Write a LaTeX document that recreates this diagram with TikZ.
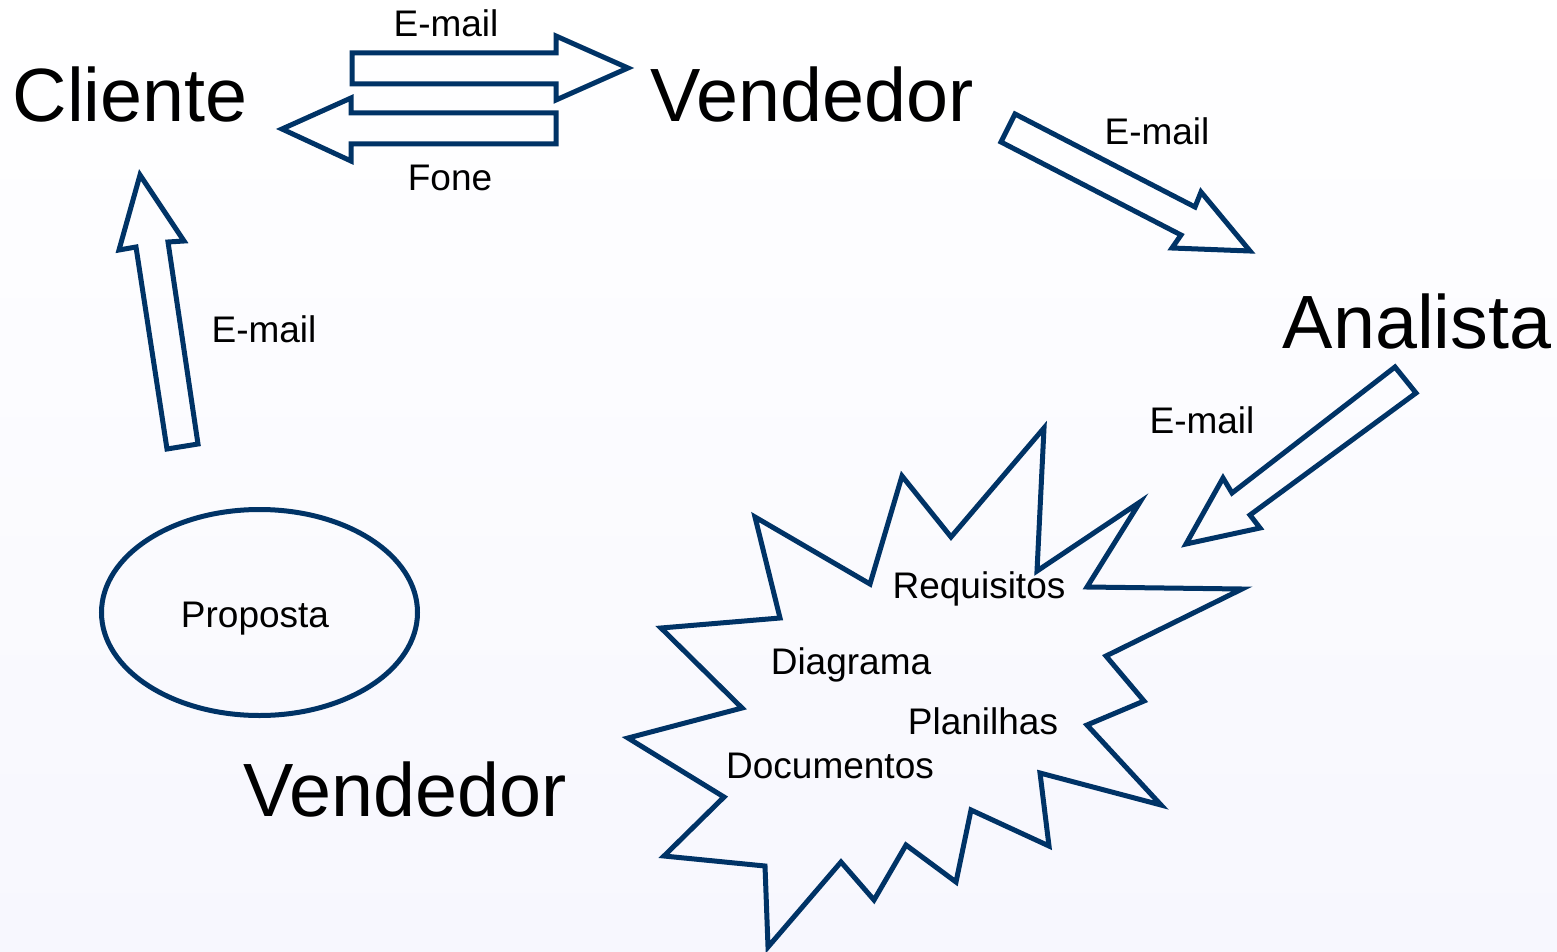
\documentclass[tikz,border=0pt]{standalone}
\usepackage{fontspec}
\setmainfont{Liberation Sans}
\definecolor{navy}{RGB}{0,51,102}
\definecolor{bgtop}{RGB}{255,255,255}
\definecolor{bgbot}{RGB}{247,247,254}
\tikzset{
  outl/.style={draw=navy, line width=5pt, line join=miter},
  bigtxt/.style={font=\fontsize{75.5}{80}\selectfont, anchor=base, inner sep=0pt},
  smalltxt/.style={font=\fontsize{37}{40}\selectfont, anchor=base, inner sep=0pt},
}
\begin{document}
\begin{tikzpicture}[x=1pt,y=-1pt]
\shade[top color=bgtop, bottom color=bgbot] (0,0) rectangle (1557,952);
\useasboundingbox (0,0) rectangle (1557,952);

% main actors
\node[bigtxt] (cliente) at (130,122) {Cliente};
\node[bigtxt] (vend1) at (812,122) {Vendedor};
\node[bigtxt] (analista) at (1417,348) {Analista};
\node[bigtxt] (vend2) at (405,816) {Vendedor};

% labels of the block arrows
\node[smalltxt] (l1) at (446,37) {E-mail};
\node[smalltxt] (l2) at (450,190) {Fone};
\node[smalltxt] (l3) at (1157,145) {E-mail};
\node[smalltxt] (l4) at (264,342) {E-mail};
\node[smalltxt] (l5) at (1202,433) {E-mail};

% block arrows
\draw[outl] (352,53) -- (556,53) -- (556,36) -- (628,68) -- (556,100) -- (556,84) -- (352,84) -- cycle;
\draw[outl] (556,113) -- (556,144) -- (351,144) -- (351,161) -- (282,129) -- (351,98) -- (351,113) -- cycle;
\draw[outl] (1015,114) -- (1195,207) -- (1201,192) -- (1250,251) -- (1172,248) -- (1181,235) -- (1001,142) -- cycle;
\draw[outl] (1395,367) -- (1416,393) -- (1250,515) -- (1260,528) -- (1186,544) -- (1223,478) -- (1232,493) -- cycle;
\draw[outl] (140,175) -- (184,241) -- (168,242) -- (198,444) -- (167,449) -- (136,247) -- (119,250) -- cycle;

% proposal
\draw[outl] (259.5,612.5) ellipse [x radius=158, y radius=103];
\node[smalltxt] (prop) at (255,627) {Proposta};

% explosion
\draw[outl] (1044,428) -- (1037,571) -- (1140,502) -- (1087,587) -- (1242,589)
  -- (1106,656) -- (1144,701) -- (1087,725) -- (1161,805) -- (1040,773)
  -- (1049,846) -- (971,810) -- (956,882) -- (906,845) -- (874,900)
  -- (841,862) -- (768,947) -- (765,866) -- (664,856) -- (724,797)
  -- (628,738) -- (742,708) -- (661,628) -- (780,618) -- (755,517)
  -- (870,584) -- (902,476) -- (951,537) -- cycle;
\node[smalltxt] (req) at (979,598) {Requisitos};
\node[smalltxt] (diag) at (851,674) {Diagrama};
\node[smalltxt] (plan) at (983,734) {Planilhas};
\node[smalltxt] (docs) at (830,778) {Documentos};
\end{tikzpicture}
\end{document}
